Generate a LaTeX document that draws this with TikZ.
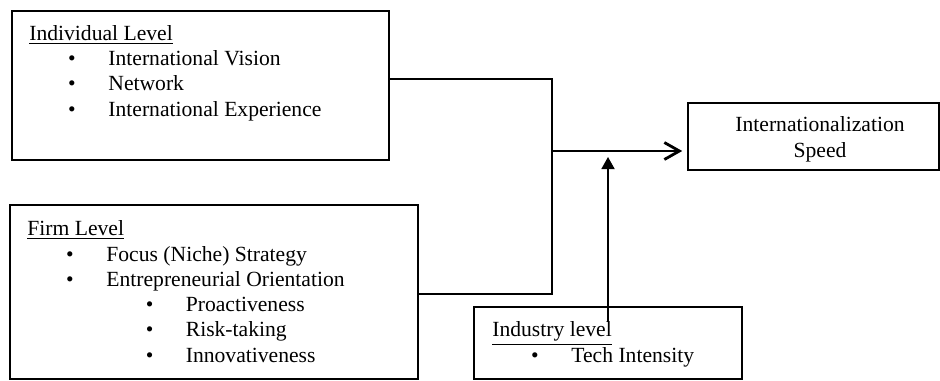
\documentclass[tikz,border=0pt]{standalone}
\usepackage{fontspec}
\setmainfont{Liberation Serif}
\usetikzlibrary{arrows.meta}

\tikzset{
  levelbox/.style={draw, line width=0.9pt, inner sep=0pt},
  boxtext/.style={align=left, inner sep=0pt, anchor=base west, font=\fontsize{12.3}{14.35}\selectfont},
  link/.style={line width=0.9pt},
  mainarrow/.style={line width=1.6pt, -{Straight Barb[length=3mm,width=3.4mm]}, shorten >=1mm},
  modarrow/.style={line width=1pt, -{Triangle[length=2.4mm,width=2.6mm]}}
}
\newcommand{\itm}[1]{\hspace*{22pt}\makebox[23pt][l]{\textbullet}#1}
\newcommand{\subitm}[1]{\hspace*{67.5pt}\makebox[22.7pt][l]{\textbullet}#1}

\begin{document}
\begin{tikzpicture}[x=0.2mm, y=-0.2mm]
	\useasboundingbox (0,0) rectangle (940,380);
	
	%the four boxes
	\node[levelbox, minimum width=75.4mm, minimum height=29.8mm] (indiv) at (200.5,85.5) {};
	\node[levelbox, minimum width=81.6mm, minimum height=34.8mm] (firm) at (214,292) {};
	\node[levelbox, minimum width=50.2mm, minimum height=13.4mm] (speed) at (813.5,136.5) {};
	\node[levelbox, minimum width=53.6mm, minimum height=14.4mm] (industry) at (608,343) {};
	
	%texts (placed at the baseline of the last line)
	\node[boxtext] (indivtxt) at (29,116) {\underline{Individual Level}\\
		\itm{International Vision}\\
		\itm{Network}\\
		\itm{International Experience}};
	\node[boxtext] (firmtxt) at (27,362) {\underline{Firm Level}\\
		\itm{Focus (Niche) Strategy}\\
		\itm{Entrepreneurial Orientation}\\
		\subitm{Proactiveness}\\
		\subitm{Risk-taking}\\
		\subitm{Innovativeness}};
	\node[boxtext] (industrytxt) at (492,362) {\underline{Industry level}\\
		\itm{Tech Intensity}};
	\node[boxtext, align=center, anchor=base] (speedtxt) at (820,157) {Internationalization\\Speed};
	
	%connectors
	\coordinate (jtop) at (552,79);
	\coordinate (jbot) at (552,294);
	\coordinate (jmid) at (552,151);
	\draw[link] (indiv.east |- jtop) -- (jtop) -- (jbot) -- (firm.east |- jbot);
	\draw[mainarrow] (jmid) -- (speed.west |- jmid);
	
	%moderator
	\coordinate (mbase) at (608,322);
	\coordinate (mtip) at (608,157);
	\draw[modarrow] (mbase) -- (mtip);
\end{tikzpicture}
\end{document}
